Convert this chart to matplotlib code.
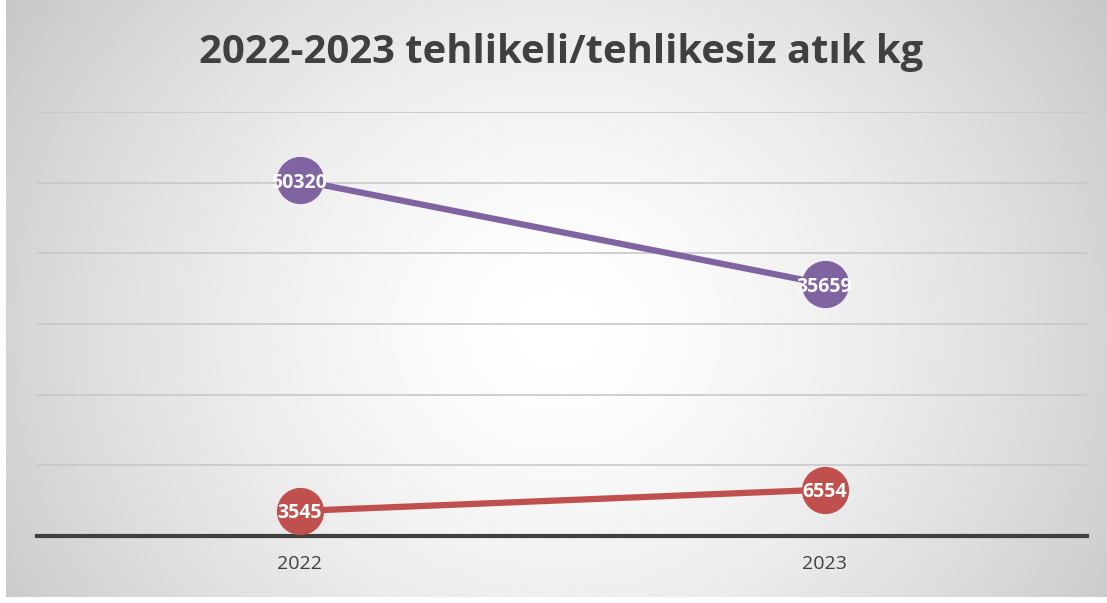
import numpy as np
import matplotlib.pyplot as plt

# data
years = ['2022', '2023']
tehlikesiz = [50320, 35659]
tehlikeli = [3545, 6554]
title = '2022-2023 tehlikeli/tehlikesiz atık kg'

plt.rcParams['font.family'] = ['Open Sans', 'DejaVu Sans']

fig = plt.figure(figsize=(11.07, 6.03), dpi=100)
fig.patch.set_facecolor('white')

# radial gradient background
bg = fig.add_axes([6 / 1107, 6 / 603, 1 - 6 / 1107, 1 - 6 / 603])
yy, xx = np.mgrid[0:300, 0:550]
cx, cy = 275, 165
r = np.sqrt(((xx - cx) / 550) ** 2 + ((yy - cy) / 300) ** 2 * 0.35)
r = np.clip(r / 0.65, 0, 1)
shade = 1.0 - 0.25 * r ** 1.5
bg.imshow(shade, cmap='gray', vmin=0, vmax=1, aspect='auto',
          extent=[0, 1, 0, 1], interpolation='bilinear')
bg.set_axis_off()

ax = fig.add_axes([37 / 1107, 67 / 603, 1050 / 1107, 424 / 603])
ax.patch.set_alpha(0)
x = np.arange(len(years))

ax.plot(x, tehlikesiz, color='#8064A2', lw=4.5, marker='o', ms=33,
        solid_capstyle='butt', zorder=3)
ax.plot(x, tehlikeli, color='#C0504D', lw=4.5, marker='o', ms=33,
        solid_capstyle='butt', zorder=3)

for xi, v in zip(x, tehlikesiz):
    ax.text(xi, v, str(v), color='white', fontsize=14, fontweight='bold',
            ha='center', va='center_baseline', zorder=4)
for xi, v in zip(x, tehlikeli):
    ax.text(xi, v, str(v), color='white', fontsize=14, fontweight='bold',
            ha='center', va='center_baseline', zorder=4)

ax.set_xlim(-0.5, 1.5)
ax.set_ylim(0, 60000)
ax.set_yticks(range(0, 60001, 10000))
ax.yaxis.grid(True, color='#c8c8c8', lw=1.2)
ax.set_axisbelow(True)
ax.tick_params(axis='y', left=False, labelleft=False)
ax.set_xticks(x)
ax.set_xticklabels(years, fontsize=14, color='#404040')
ax.tick_params(axis='x', length=0, pad=14)
for s in ['top', 'right', 'left']:
    ax.spines[s].set_visible(False)
ax.spines['bottom'].set_color('#404040')
ax.spines['bottom'].set_linewidth(3)

fig.text(561 / 1107, 1 - 52 / 603, title, ha='center', va='center',
         fontsize=28.8, fontweight='bold', color='#404040')

fig.savefig('out.png', dpi=100)
